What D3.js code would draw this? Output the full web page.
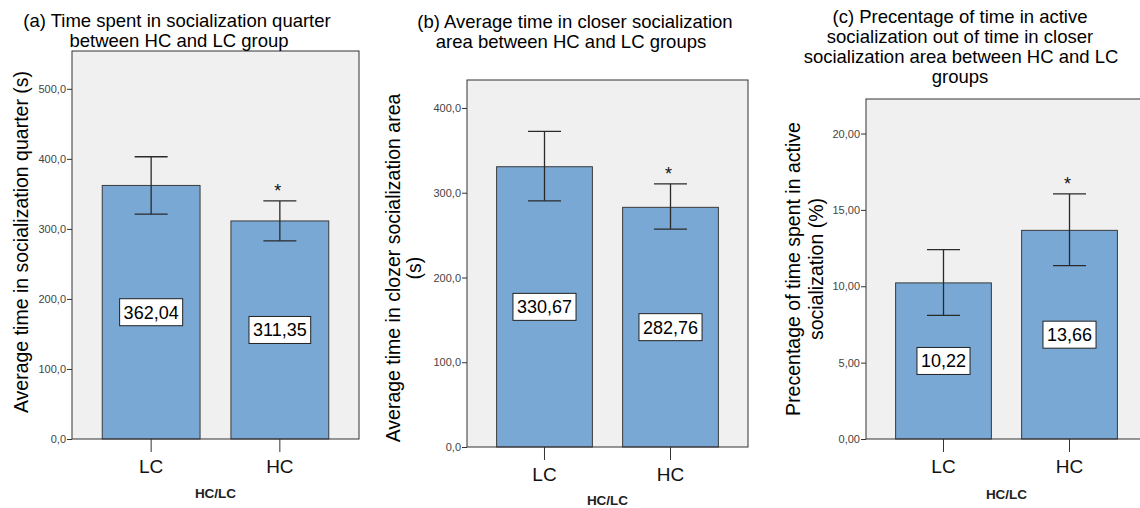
<!DOCTYPE html>
<html><head><meta charset="utf-8">
<script src="https://cdn.jsdelivr.net/npm/d3@7"></script>
<style>body{margin:0;background:#fff}svg{display:block;font-family:Arial,"Liberation Sans",sans-serif}</style>
</head><body><svg id="chart" width="1140" height="508"></svg>
<script>
const groups = ["LC", "HC"];
const starred = [false, true];

// (a) socialization quarter, seconds
const quarterMean = [362.04, 311.35];
const quarterLow = [321.0, 283.0];
const quarterHigh = [403.0, 340.0];
const quarterTicks = [0, 100, 200, 300, 400, 500];

// (b) closer socialization area, seconds
const closerMean = [330.67, 282.76];
const closerLow = [290.5, 257.0];
const closerHigh = [372.5, 310.5];
const closerTicks = [0, 100, 200, 300, 400];

// (c) active socialization, percent
const activeMean = [10.22, 13.66];
const activeLow = [8.1, 11.35];
const activeHigh = [12.4, 16.05];
const activeTicks = [0, 5, 10, 15, 20];

const loc = d3.formatLocale({decimal: ",", thousands: ".", grouping: [3], currency: ["", ""]});
const f1 = loc.format(".1f"), f2 = loc.format(".2f");

const svg = d3.select("#chart");

const panels = [
  {left: 72, right: 359, top: 51, bottom: 439, yMax: 554,
   mean: quarterMean, low: quarterLow, high: quarterHigh, ticks: quarterTicks, fmt: f1,
   title: ["(a) Time spent in socialization quarter", "between HC and LC group"],
   titleX: [177, 179], titleY: [27, 47],
   yTitle: ["Average time in socialization quarter (s)"], yTitleX: [28], yTitleY: 242,
   xTitleY: 498},
  {left: 467, right: 748, top: 80, bottom: 447, yMax: 433,
   mean: closerMean, low: closerLow, high: closerHigh, ticks: closerTicks, fmt: f1,
   title: ["(b) Average time in closer socialization", "area between HC and LC groups"],
   titleX: [575, 571], titleY: [28, 48],
   yTitle: ["Average time in clozer socialization area", "(s)"], yTitleX: [400, 421], yTitleY: 268,
   xTitleY: 505},
  {left: 866, right: 1147, top: 99, bottom: 439, yMax: 22.26,
   mean: activeMean, low: activeLow, high: activeHigh, ticks: activeTicks, fmt: f2,
   title: ["(c) Precentage of time in active", "socialization out of time in closer",
           "socialization area between HC and LC", "groups"],
   titleX: [960, 960, 961, 960], titleY: [23, 43, 63, 83],
   yTitle: ["Precentage of time spent in active", "socialization (%)"], yTitleX: [800, 823], yTitleY: 269,
   xTitleY: 499}
];

panels.forEach(p => {
  const g = svg.append("g");
  const x = d3.scaleBand().domain(groups).range([p.left, p.right])
    .paddingInner(0.24).paddingOuter(0.235);
  const y = d3.scaleLinear().domain([0, p.yMax]).range([p.bottom, p.top]);

  g.append("rect")
    .attr("x", p.left).attr("y", p.top)
    .attr("width", p.right - p.left).attr("height", p.bottom - p.top)
    .attr("fill", "#f0f0f0");

  const rows = groups.map((k, i) => ({k, m: p.mean[i], lo: p.low[i], hi: p.high[i], s: starred[i]}));

  g.selectAll(".bar").data(rows).enter().append("rect")
    .attr("x", d => x(d.k)).attr("y", d => y(d.m))
    .attr("width", x.bandwidth()).attr("height", d => y(0) - y(d.m))
    .attr("fill", "#79a8d4").attr("stroke", "#3a3a3a").attr("stroke-width", 1);

  const eb = g.selectAll(".err").data(rows).enter().append("g")
    .attr("stroke", "#2a2a2a").attr("stroke-width", 1.3);
  const cx = d => x(d.k) + x.bandwidth() / 2;
  eb.append("line").attr("x1", cx).attr("x2", cx).attr("y1", d => y(d.lo)).attr("y2", d => y(d.hi));
  eb.append("line").attr("x1", d => cx(d) - 16.5).attr("x2", d => cx(d) + 16.5).attr("y1", d => y(d.lo)).attr("y2", d => y(d.lo));
  eb.append("line").attr("x1", d => cx(d) - 16.5).attr("x2", d => cx(d) + 16.5).attr("y1", d => y(d.hi)).attr("y2", d => y(d.hi));

  g.selectAll(".star").data(rows.filter(d => d.s)).enter().append("text")
    .attr("x", d => cx(d) - 2).attr("y", d => y(d.hi) - 4)
    .attr("text-anchor", "middle").attr("font-size", 18).attr("fill", "#111")
    .text("*");

  const lab = g.selectAll(".lab").data(rows).enter().append("g")
    .attr("transform", d => `translate(${cx(d)},${(y(d.m) + y(0)) / 2})`);
  lab.append("rect").attr("fill", "#fff").attr("stroke", "#222").attr("stroke-width", 1);
  lab.append("text").attr("text-anchor", "middle").attr("dy", "0.36em")
    .attr("font-size", 18).attr("fill", "#000").text(d => f2(d.m));
  lab.each(function() {
    const t = d3.select(this).select("text").node().getComputedTextLength();
    d3.select(this).select("rect").attr("x", -t / 2 - 4).attr("y", -13.5)
      .attr("width", t + 8).attr("height", 27);
  });

  g.append("rect")
    .attr("x", p.left).attr("y", p.top)
    .attr("width", p.right - p.left).attr("height", p.bottom - p.top)
    .attr("fill", "none").attr("stroke", "#333").attr("stroke-width", 1);

  const ya = g.append("g").attr("transform", `translate(${p.left},0)`)
    .call(d3.axisLeft(y).tickValues(p.ticks).tickSize(5).tickPadding(1).tickFormat(p.fmt));
  ya.select(".domain").remove();
  ya.selectAll("line").attr("stroke", "#333");
  ya.selectAll("text").attr("font-size", 11).attr("fill", "#444").attr("font-family", null);

  const xa = g.append("g").attr("transform", `translate(0,${p.bottom})`)
    .call(d3.axisBottom(x).tickSize(13).tickPadding(8));
  xa.select(".domain").remove();
  xa.selectAll("line").attr("stroke", "#333");
  xa.selectAll("text").attr("font-size", 19).attr("fill", "#111").attr("font-family", null);

  g.append("text").attr("x", (p.left + p.right) / 2).attr("y", p.xTitleY)
    .attr("text-anchor", "middle").attr("font-size", 13.5).attr("font-weight", "bold")
    .attr("fill", "#222").text("HC/LC");

  p.title.forEach((t, i) => {
    g.append("text").attr("x", p.titleX[i]).attr("y", p.titleY[i])
      .attr("text-anchor", "middle").attr("font-size", 18.5).attr("fill", "#000").text(t);
  });

  p.yTitle.forEach((t, i) => {
    g.append("text")
      .attr("transform", `translate(${p.yTitleX[i]},${p.yTitleY}) rotate(-90)`)
      .attr("text-anchor", "middle").attr("font-size", 19.5).attr("fill", "#000").text(t);
  });
});
</script></body></html>
